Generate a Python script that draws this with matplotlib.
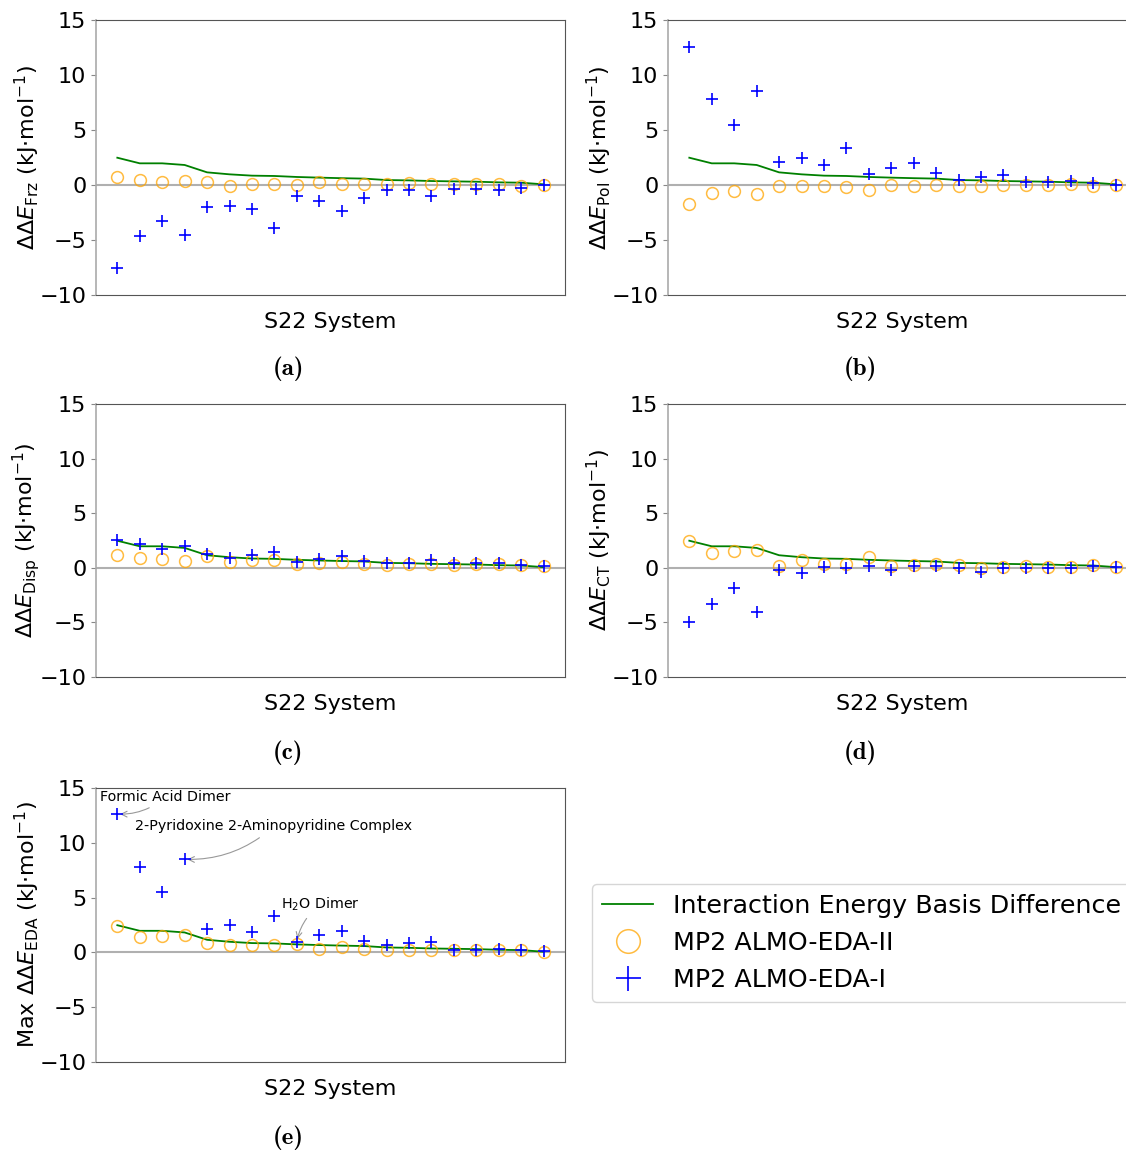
import numpy as np
import matplotlib
matplotlib.use("Agg")
import matplotlib.pyplot as plt

# ---- data (kJ/mol), 20 S22 systems ----
basis_diff = [2.48, 1.97, 1.97, 1.82, 1.15, 0.97, 0.85, 0.82, 0.73, 0.67,
              0.62, 0.58, 0.45, 0.42, 0.36, 0.33, 0.30, 0.24, 0.21, 0.06]

frz_eda2 = [0.70, 0.48, 0.24, 0.39, 0.27, -0.06, 0.09, 0.12, -0.03, 0.24,
            0.06, 0.09, 0.06, 0.21, 0.12, 0.06, 0.09, 0.06, -0.06, 0.00]
frz_eda1 = [-7.58, -4.67, -3.30, -4.52, -2.00, -1.91, -2.15, -3.88, -0.97, -1.45,
            -2.39, -1.18, -0.45, -0.48, -0.97, -0.36, -0.33, -0.45, -0.24, 0.00]

pol_eda2 = [-1.73, -0.76, -0.55, -0.79, -0.12, -0.12, -0.06, -0.21, -0.42, -0.03,
            -0.12, 0.00, -0.09, -0.06, -0.03, 0.00, 0.03, 0.09, -0.09, -0.03]
pol_eda1 = [12.58, 7.82, 5.45, 8.52, 2.09, 2.48, 1.85, 3.33, 1.00, 1.55,
            1.97, 1.12, 0.45, 0.76, 0.88, 0.30, 0.30, 0.39, 0.15, 0.00]

disp_eda2 = [1.13, 0.89, 0.80, 0.64, 1.04, 0.52, 0.71, 0.71, 0.34, 0.40,
             0.52, 0.31, 0.28, 0.31, 0.31, 0.28, 0.31, 0.31, 0.25, 0.15]
disp_eda1 = [2.54, 2.17, 1.71, 2.02, 1.28, 0.92, 1.19, 1.44, 0.55, 0.82,
             1.07, 0.58, 0.46, 0.46, 0.67, 0.40, 0.46, 0.46, 0.25, 0.18]

ct_eda2 = [2.47, 1.37, 1.56, 1.62, 0.12, 0.73, 0.31, 0.31, 0.95, 0.15,
           0.27, 0.31, 0.27, 0.00, 0.06, 0.15, 0.06, 0.06, 0.27, 0.06]
ct_eda1 = [-4.95, -3.27, -1.86, -4.06, -0.21, -0.49, 0.06, 0.00, 0.15, -0.21,
           0.15, 0.21, 0.00, -0.37, -0.03, -0.03, -0.03, 0.00, 0.15, 0.06]

max_eda2 = [2.43, 1.37, 1.52, 1.55, 0.89, 0.70, 0.67, 0.70, 0.76, 0.34,
            0.46, 0.27, 0.22, 0.22, 0.24, 0.22, 0.22, 0.22, 0.22, 0.06]
max_eda1 = [12.62, 7.82, 5.51, 8.49, 2.16, 2.53, 1.89, 3.35, 0.98, 1.61,
            1.98, 1.07, 0.67, 0.82, 0.95, 0.24, 0.24, 0.31, 0.22, 0.09]

ylabels = [r'$\Delta\Delta E_{\rm Frz}$ (kJ$\cdot$mol$^{-1}$)',
           r'$\Delta\Delta E_{\rm Pol}$ (kJ$\cdot$mol$^{-1}$)',
           r'$\Delta\Delta E_{\rm Disp}$ (kJ$\cdot$mol$^{-1}$)',
           r'$\Delta\Delta E_{\rm CT}$ (kJ$\cdot$mol$^{-1}$)',
           r'Max $\Delta\Delta E_{\rm EDA}$ (kJ$\cdot$mol$^{-1}$)']
panel_tags = ['(a)', '(b)', '(c)', '(d)', '(e)']
xlabel = 'S22 System'
yticks = [-10, -5, 0, 5, 10, 15]
legend_labels = ['Interaction Energy Basis Difference', 'MP2 ALMO-EDA-II', 'MP2 ALMO-EDA-I']

W, H = 1126, 1153
fig = plt.figure(figsize=(W / 100, H / 100), dpi=100)


def rect(l, t, r, b):
    return [l / W, 1 - b / H, (r - l) / W, (b - t) / H]


rects = [rect(96, 20, 565, 295), rect(668, 20, 1137, 295),
         rect(96, 404, 565, 677), rect(668, 404, 1137, 677),
         rect(96, 788, 565, 1062)]
tag_pos = [(288, 369), (860, 369), (288, 753), (860, 753), (288, 1138)]

series = [(frz_eda2, frz_eda1), (pol_eda2, pol_eda1), (disp_eda2, disp_eda1),
          (ct_eda2, ct_eda1), (max_eda2, max_eda1)]

x = np.arange(len(basis_diff))
axes = []
handles = None
for i, (r, (e2, e1)) in enumerate(zip(rects, series)):
    ax = fig.add_axes(r)
    axes.append(ax)
    ax.axhline(0, color='#b0b0b0', lw=1.5, zorder=0)
    h1, = ax.plot(x, basis_diff, color='green', lw=1.3, zorder=2)
    h2, = ax.plot(x, e2, 'o', mfc='none', mec='orange', mew=1.1, ms=8.5, alpha=0.75, zorder=3)
    h3, = ax.plot(x, e1, '+', color='blue', ms=9, mew=1.2, zorder=4)
    handles = [h1, h2, h3]
    ax.set_ylim(-10, 15)
    ax.set_yticks(yticks)
    ax.set_xticks([])
    ax.tick_params(axis='y', labelsize=16, color='#888888', length=3.5)
    for side in ['top', 'right', 'bottom']:
        ax.spines[side].set_color('#555555')
    ax.spines['left'].set_color('#aaaaaa')
    ax.spines['left'].set_linewidth(1.2)
    ax.set_ylabel(ylabels[i], fontsize=16, labelpad=-2)
    ax.set_xlabel(xlabel, fontsize=16, labelpad=12)
    tx, ty = tag_pos[i]
    fig.text(tx / W, 1 - ty / H, panel_tags[i], family=['cmb10', 'DejaVu Serif'],
             fontsize=18, ha='center', va='center')

# annotations on panel (e)
axe = axes[4]
arrow = dict(arrowstyle='->', color='#999999', lw=0.8)
axe.annotate('Formic Acid Dimer', xy=(0, max_eda1[0]), xytext=(-0.75, 14.2),
             fontsize=10.3, va='center', ha='left',
             arrowprops=dict(connectionstyle='arc3,rad=-0.2', **arrow))
axe.annotate('2-Pyridoxine 2-Aminopyridine Complex', xy=(3, max_eda1[3]), xytext=(0.8, 11.5),
             fontsize=10.3, va='center', ha='left',
             arrowprops=dict(connectionstyle='arc3,rad=-0.2', **arrow))
axe.annotate(r'H$_2$O Dimer', xy=(8, max_eda1[8]), xytext=(7.3, 4.35),
             fontsize=10.3, va='center', ha='left',
             arrowprops=dict(connectionstyle='arc3,rad=0.2', **arrow))

fig.legend(handles, legend_labels, loc='upper left',
           bbox_to_anchor=(592 / W, 1 - 884 / H), fontsize=18.3, markerscale=2.0,
           frameon=True, handlelength=2.0, borderaxespad=0)

fig.savefig('out.png', dpi=100)
